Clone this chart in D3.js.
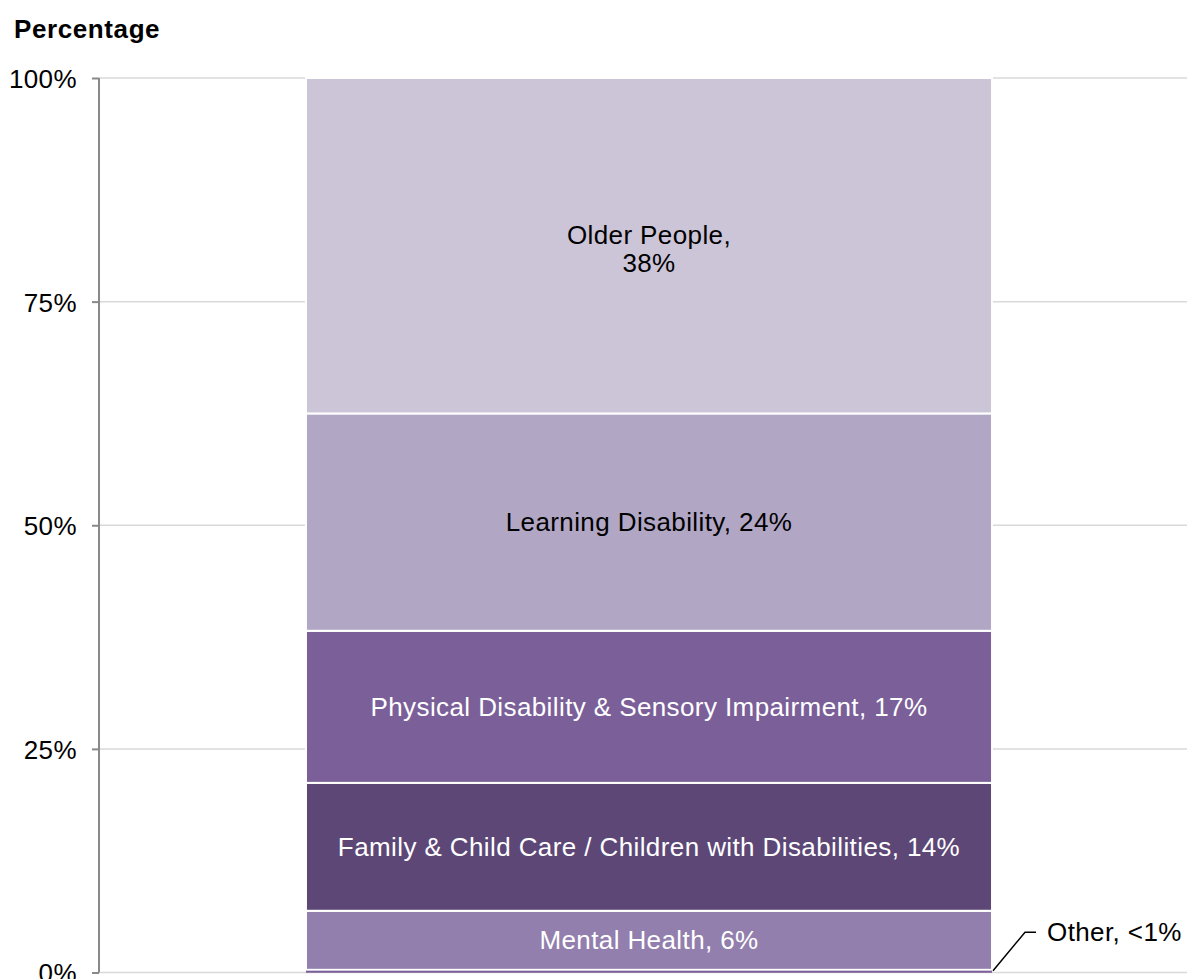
<!DOCTYPE html>
<html>
<head>
<meta charset="utf-8">
<script src="https://cdn.jsdelivr.net/npm/d3@7"></script>
<style>
    body { margin: 0; background: #fff; }
    text { font-family: "Liberation Sans", Arial, sans-serif; }
</style>
</head>
<body>
<script>
//chart data, bottom segment first
var segments = ["Other", "Mental Health", "Family & Child Care / Children with Disabilities", "Physical Disability & Sensory Impairment", "Learning Disability", "Older People"];
var shares = [0.3, 6.6, 14.3, 17.0, 24.3, 37.5];
var labels = [["Other, <1%"], ["Mental Health, 6%"], ["Family & Child Care / Children with Disabilities, 14%"], ["Physical Disability & Sensory Impairment, 17%"], ["Learning Disability, 24%"], ["Older People,", "38%"]];
var fills = ["#7b5f99", "#927fad", "#5d4777", "#7b5f99", "#b1a7c5", "#ccc5d8"];
var textFills = ["#000", "#fff", "#fff", "#fff", "#000", "#000"];
var yTicks = [0, 25, 50, 75, 100];
var yTickLabels = ["0%", "25%", "50%", "75%", "100%"];
var category = ["All"];

var width = 1187,
    height = 979;

var svg = d3.select("body")
    .append("svg")
    .attr("width", width)
    .attr("height", height);

//scales
var y = d3.scaleLinear()
    .domain([0, 100])
    .range([972.5, 78]);
var x = d3.scaleBand()
    .domain(category)
    .range([99, 1199])
    .paddingInner(0)
    .paddingOuter(0.3017);

//gridlines
svg.selectAll(".grid")
    .data(yTicks)
    .enter()
    .append("line")
    .attr("class", "grid")
    .attr("x1", 99)
    .attr("x2", width)
    .attr("y1", function(d){ return y(d); })
    .attr("y2", function(d){ return y(d); })
    .style("stroke", "#d9d9d9")
    .style("stroke-width", 1.5);

//stack the segments
var stacked = [];
var cum = 0;
for (var i=0; i<shares.length; i++){
    stacked.push({name: segments[i], y0: cum, y1: cum + shares[i], i: i});
    cum += shares[i];
};

var x0 = x("All"),
    bw = x.bandwidth(),
    cx = x0 + bw / 2;

svg.selectAll(".seg")
    .data(stacked)
    .enter()
    .append("rect")
    .attr("class", "seg")
    .attr("x", x0)
    .attr("width", bw)
    .attr("y", function(d){ return y(d.y1); })
    .attr("height", function(d){ return y(d.y0) - y(d.y1); })
    .style("fill", function(d){ return fills[d.i]; })
    .style("stroke", function(d){ return d.i == 0 ? "none" : "#fff"; })
    .style("stroke-width", 2);

//redraw the tiny bottom sliver on top so it stays visible
svg.append("rect")
    .attr("x", x0)
    .attr("width", bw)
    .attr("y", y(stacked[0].y1) + 1)
    .attr("height", y(stacked[0].y0) - y(stacked[0].y1) - 1)
    .style("fill", fills[0]);

//segment labels (skip Other, labelled outside)
var labelGroups = svg.selectAll(".lbl")
    .data(stacked.slice(1))
    .enter()
    .append("text")
    .attr("class", "lbl")
    .attr("text-anchor", "middle")
    .attr("x", cx)
    .style("font-size", "26px")
    .style("letter-spacing", "0.4px")
    .style("fill", function(d){ return textFills[d.i]; });

labelGroups.each(function(d){
    var lines = labels[d.i];
    var mid = (y(d.y0) + y(d.y1)) / 2;
    var el = d3.select(this);
    lines.forEach(function(t, k){
        el.append("tspan")
            .attr("x", cx)
            .attr("y", lines.length == 1 ? mid + 9 : mid - 2 + k * 28)
            .text(t);
    });
});

//leader line for Other
var xr = x0 + bw;
svg.append("polyline")
    .attr("points", [[xr + 1, y(0.2)], [xr + 33, y(4.5)], [xr + 44, y(4.5)]].join(" "))
    .style("fill", "none")
    .style("stroke", "#000")
    .style("stroke-width", 1.5);
svg.append("text")
    .attr("x", xr + 55)
    .attr("y", y(4.5) + 9)
    .style("font-size", "26px")
    .style("letter-spacing", "0.4px")
    .text(labels[0][0]);

//y axis
var yAxis = d3.axisLeft(y)
    .tickValues(yTicks)
    .tickSize(7)
    .tickFormat(function(d, k){ return yTickLabels[k]; });
var ax = svg.append("g")
    .attr("transform", "translate(99,0)")
    .call(yAxis);
ax.select(".domain")
    .attr("d", "M0," + y(100) + "V" + y(0))
    .style("stroke", "#898989")
    .style("stroke-width", 2);
ax.selectAll(".tick line")
    .style("stroke", "#898989")
    .style("stroke-width", 2);
ax.selectAll(".tick text")
    .attr("x", -22)
    .attr("dy", "0.36em")
    .style("font-size", "26px")
    .style("letter-spacing", "0.4px")
    .style("font-family", "'Liberation Sans', Arial, sans-serif")
    .style("fill", "#000");

//axis title
svg.append("text")
    .attr("x", 14)
    .attr("y", 38)
    .style("font-size", "26px")
    .style("font-weight", "bold")
    .style("letter-spacing", "0.6px")
    .text("Percentage");
</script>
</body>
</html>
